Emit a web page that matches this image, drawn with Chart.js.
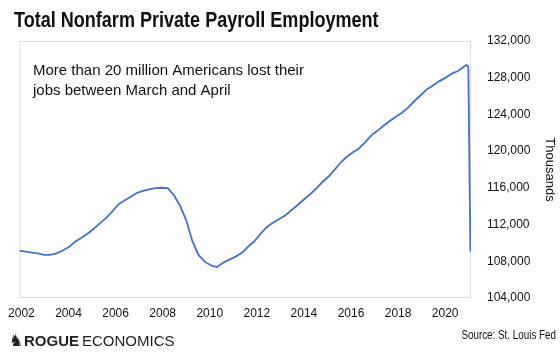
<!DOCTYPE html>
<html>
<head>
<meta charset="utf-8">
<script src="https://cdn.jsdelivr.net/npm/chart.js@4.4.1/dist/chart.umd.min.js"></script>
<style>
  html, body { margin: 0; padding: 0; background: #fff; }
  canvas { display: block; }
</style>
</head>
<body>
<canvas id="chart" width="560" height="353"></canvas>
<script>
// months since Jan 2002 (quarterly, then the last three months)
const monthOffsets = [
  0, 3, 6, 9, 12, 15, 18, 21, 24, 27, 30, 33, 36, 39, 42, 45, 48, 51, 54, 57,
  60, 63, 66, 69, 72, 75, 78, 81, 84, 87, 90, 93, 96, 99, 102, 105, 108, 111,
  114, 117, 120, 123, 126, 129, 132, 135, 138, 141, 144, 147, 150, 153, 156,
  159, 162, 165, 168, 171, 174, 177, 180, 183, 186, 189, 192, 195, 198, 201,
  204, 207, 210, 213, 216, 217, 218, 219
];

// private payroll employment, thousands
const payroll = [
  109170, 109060, 108950, 108860, 108690, 108690, 108870, 109170, 109550, 110130,
  110540, 111000, 111520, 112130, 112700, 113400, 114190, 114620, 115030, 115440,
  115680, 115840, 115980, 116010, 115960, 115210, 114050, 112460, 110190, 108670,
  107960, 107550, 107370, 107870, 108180, 108510, 108920, 109580, 110150, 110980,
  111690, 112190, 112570, 112980, 113560, 114110, 114700, 115270, 115900, 116610,
  117210, 117960, 118760, 119390, 119880, 120320, 120980, 121750, 122240, 122790,
  123320, 123780, 124220, 124790, 125490, 126120, 126750, 127190, 127630, 128010,
  128450, 128730, 129220, 129390, 129220, 109060
];

const yearTicks = [2002, 2004, 2006, 2008, 2010, 2012, 2014, 2016, 2018, 2020];

const titleText = 'Total Nonfarm Private Payroll Employment';
const noteLines = ['More than 20 million Americans lost their', 'jobs between March and April'];
const sourceText = 'Source: St. Louis Fed';

const regular = "'Liberation Sans', Arial, sans-serif";

Chart.defaults.font.family = regular;
Chart.defaults.color = '#111';

const points = monthOffsets.map((m, i) => ({ x: 2002 + m / 12, y: payroll[i] }));

// no narrow font installed, so squeeze the text horizontally
function narrowText(ctx, text, x, y, squeeze) {
  ctx.save();
  ctx.translate(x, y);
  ctx.scale(squeeze, 1);
  ctx.fillText(text, 0, 0);
  ctx.restore();
}

// light frame around the plot area
const frame = {
  id: 'frame',
  beforeDatasetsDraw(chart) {
    const { ctx, chartArea: a } = chart;
    ctx.save();
    ctx.strokeStyle = '#dedede';
    ctx.lineWidth = 1;
    ctx.strokeRect(a.left + 0.5, a.top + 0.5, a.right - a.left - 1, a.bottom - a.top - 1);
    ctx.restore();
  }
};

// title, note and footer
const texts = {
  id: 'texts',
  afterDraw(chart) {
    const ctx = chart.ctx;
    ctx.save();
    ctx.textBaseline = 'alphabetic';
    ctx.fillStyle = '#111';

    ctx.font = 'bold 22px ' + regular;
    narrowText(ctx, titleText, 14, 27, 0.82);

    ctx.font = '15px ' + regular;
    ctx.fillText(noteLines[0], 33, 75);
    ctx.fillText(noteLines[1], 33, 94.5);

    ctx.fillStyle = '#231f20';
    ctx.font = '16px "DejaVu Sans"';
    ctx.fillText('\u265E', 9, 346);
    ctx.font = 'bold 15px ' + regular;
    ctx.fillText('ROGUE', 24, 346);
    ctx.font = '15px ' + regular;
    ctx.fillText('ECONOMICS', 82, 346);

    ctx.fillStyle = '#111';
    ctx.font = '12px ' + regular;
    ctx.textAlign = 'left';
    const w = ctx.measureText(sourceText).width * 0.82;
    narrowText(ctx, sourceText, 556 - w, 339, 0.82);
    ctx.restore();
  }
};

new Chart(document.getElementById('chart'), {
  type: 'line',
  data: {
    datasets: [{
      data: points,
      borderColor: '#4472c4',
      borderWidth: 1.8,
      pointRadius: 0,
      tension: 0,
      fill: false
    }]
  },
  options: {
    responsive: false,
    animation: false,
    layout: { padding: { left: 17, top: 41, right: 0, bottom: 0 } },
    plugins: { legend: { display: false }, tooltip: { enabled: false } },
    scales: {
      x: {
        type: 'linear',
        display: false,
        min: 2002,
        max: 2002 + 219.3 / 12
      },
      years: {
        type: 'linear',
        position: 'bottom',
        axis: 'x',
        min: 2001.9155,
        max: 2021.098,
        grid: { display: false, drawTicks: false },
        border: { display: false },
        ticks: { padding: 8, font: { size: 12 }, color: '#111', maxRotation: 0, callback: v => String(v) },
        afterBuildTicks: s => { s.ticks = yearTicks.map(v => ({ value: v })); },
        afterFit: s => { s.height = 55; }
      },
      y: {
        position: 'right',
        min: 104000,
        max: 132000,
        grid: { display: false, drawTicks: false },
        border: { display: false },
        ticks: {
          stepSize: 4000,
          padding: 16,
          font: { size: 12 },
          color: '#111',
          callback: v => v.toLocaleString('en-US')
        },
        title: { display: true, text: 'Thousands', font: { size: 13 }, color: '#111', padding: 3 },
        afterFit: s => { s.width = 89; }
      }
    }
  },
  plugins: [frame, texts]
});
</script>
</body>
</html>
